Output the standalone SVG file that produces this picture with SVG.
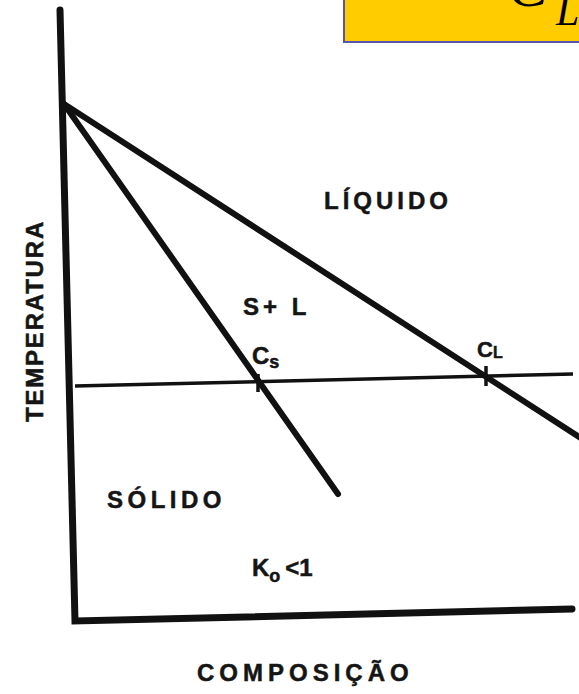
<svg xmlns="http://www.w3.org/2000/svg" width="579" height="694" viewBox="0 0 579 694">
<style>
.lbl{font-family:"Liberation Sans",Arial,sans-serif;font-weight:bold;fill:#151515;stroke:#151515;stroke-width:0.5}
.ax{fill:none;stroke:#111;stroke-width:7;stroke-linecap:round;stroke-linejoin:miter}
.crv{fill:none;stroke:#111;stroke-width:6;stroke-linecap:round}
.tie{fill:none;stroke:#111;stroke-width:3.5}
</style>
<rect width="579" height="694" fill="#fff"/>
<g id="title-box">
<rect x="344" y="-10" width="245" height="52" fill="#FFCC00" stroke="#5555B0" stroke-width="2"/>
<text x="508" y="6" font-family="'Liberation Serif','Times New Roman',serif" font-style="italic" font-size="60" fill="#000">C</text>
<text x="556" y="25" font-family="'Liberation Serif','Times New Roman',serif" font-style="italic" font-size="42" fill="#000">L</text>
</g>
<g id="connectors">
<path class="ax" d="M60,10 L75,621 L572,609"/>
<line class="crv" x1="64" y1="104" x2="590" y2="444"/>
<line class="crv" x1="64" y1="104" x2="338" y2="494"/>
<line class="tie" x1="75" y1="386" x2="573" y2="374"/>
<line class="tie" x1="258" y1="374" x2="258" y2="392"/>
<line class="tie" x1="486" y1="366" x2="486" y2="386"/>
</g>
<g id="liquido"><text class="lbl" x="324" y="209" font-size="24" letter-spacing="4">LÍQUIDO</text></g>
<g id="s-l"><text class="lbl" x="243" y="315" font-size="24" letter-spacing="4">S+ L</text></g>
<g id="cs"><text class="lbl" x="252" y="364" font-size="24">C<tspan font-size="18" dy="4">s</tspan></text></g>
<g id="cl"><text class="lbl" x="477" y="357" font-size="22">C<tspan font-size="16" dy="1">L</tspan></text></g>
<g id="solido"><text class="lbl" x="107" y="508" font-size="24" letter-spacing="4.5">SÓLIDO</text></g>
<g id="ko"><text class="lbl" x="252" y="576" font-size="24">K<tspan font-size="18" dy="6">o</tspan><tspan dy="-6" dx="5">&lt;1</tspan></text></g>
<g id="composicao"><text class="lbl" x="197" y="681" font-size="24" letter-spacing="5">COMPOSIÇÃO</text></g>
<g id="temperatura"><text class="lbl" transform="translate(43,321) rotate(-90)" text-anchor="middle" font-size="24" letter-spacing="1.8">TEMPERATURA</text></g>
</svg>
